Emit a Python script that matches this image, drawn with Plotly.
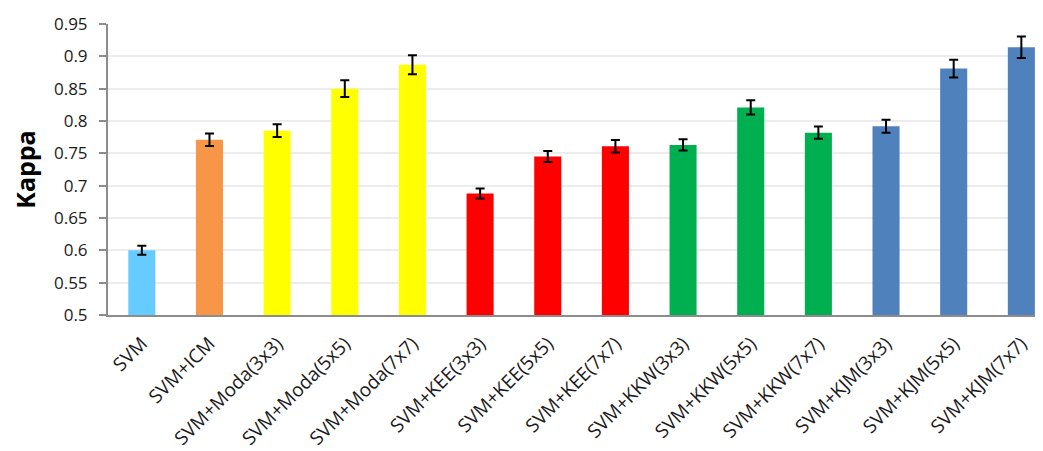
import plotly.graph_objects as go

categories = ["SVM", "SVM+ICM", "SVM+Moda(3x3)", "SVM+Moda(5x5)", "SVM+Moda(7x7)",
              "SVM+KEE(3x3)", "SVM+KEE(5x5)", "SVM+KEE(7x7)",
              "SVM+KKW(3x3)", "SVM+KKW(5x5)", "SVM+KKW(7x7)",
              "SVM+KJM(3x3)", "SVM+KJM(5x5)", "SVM+KJM(7x7)"]
kappa = [0.600, 0.771, 0.785, 0.850, 0.887,
         0.688, 0.745, 0.761,
         0.763, 0.821, 0.782,
         0.792, 0.881, 0.914]
kappa_err = [0.007, 0.0095, 0.0098, 0.013, 0.0147,
             0.0077, 0.0085, 0.0096,
             0.0088, 0.011, 0.0095,
             0.010, 0.0137, 0.0165]
bar_colors = ["#66CCFF", "#F79646", "#FFFF00", "#FFFF00", "#FFFF00",
              "#FF0000", "#FF0000", "#FF0000",
              "#00B050", "#00B050", "#00B050",
              "#4F81BD", "#4F81BD", "#4F81BD"]
y_ticks = [0.5, 0.55, 0.6, 0.65, 0.7, 0.75, 0.8, 0.85, 0.9, 0.95]
y_tick_text = ["0.5", "0.55", "0.6", "0.65", "0.7", "0.75", "0.8", "0.85", "0.9", "0.95"]

fig = go.Figure()
fig.add_trace(go.Bar(
    x=categories, y=kappa, base=0,
    marker=dict(color=bar_colors, line=dict(width=0)),
    width=0.4,
    error_y=dict(type="data", array=kappa_err, visible=True,
                 color="black", thickness=2, width=4.5),
))

font_family = "Open Sans, Noto Sans, sans-serif"
fig.update_layout(
    width=1035, height=443,
    margin=dict(l=100, r=0, t=16, b=136),
    paper_bgcolor="white", plot_bgcolor="white",
    showlegend=False,
    font=dict(family=font_family, size=17, color="#1a1a1a"),
    xaxis=dict(
        range=[-0.5, 13.32],
        tickangle=-45,
        showline=True, linecolor="#8c8c8c", linewidth=2,
        ticks="", showgrid=False,
        tickfont=dict(size=19, color="#1a1a1a"),
        ticklabelstandoff=8,
        automargin=False,
    ),
    yaxis=dict(
        range=[0.5, 0.95],
        tickvals=y_ticks, ticktext=y_tick_text,
        showline=True, linecolor="#8c8c8c", linewidth=2,
        ticks="outside", ticklen=7, tickwidth=2, tickcolor="#8c8c8c",
        showgrid=True, gridcolor="#ececec", gridwidth=2,
        zeroline=False,
        tickfont=dict(size=17, color="#1a1a1a"),
        ticklabelstandoff=8,
        automargin=False,
        title=dict(text="<b>Kappa</b>", font=dict(size=25, color="#000000"), standoff=16),
    ),
)

fig.write_html("out.html")
